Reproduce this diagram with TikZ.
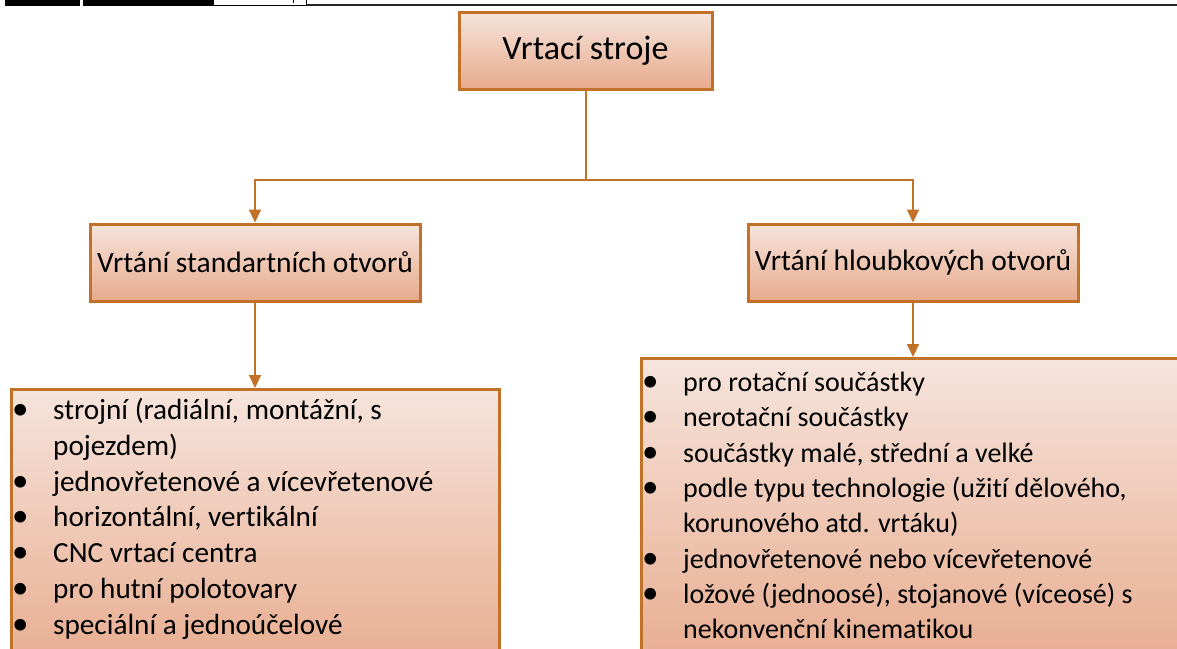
\documentclass[tikz,border=0pt]{standalone}
\usepackage{fontspec}
\setmainfont{Carlito}[Ligatures={NoCommon}]
\usetikzlibrary{arrows.meta,shadings}
\definecolor{bord}{RGB}{193,114,40}
\definecolor{ftop}{RGB}{246,228,220}
\definecolor{fbot}{RGB}{231,170,140}
\tikzset{
  box/.style={draw=bord, line width=3pt, top color=ftop, bottom color=fbot, inner sep=0pt},
  head/.style={box, font=\fontsize{29.5}{36}\selectfont},
  conn/.style={draw=bord, line width=2pt, -{Triangle[width=12pt,length=13pt]}},
  listtxt/.style={anchor=north west, inner sep=0pt, align=left},
}
\newcommand{\bul}{\makebox[0pt][l]{\hspace*{-41pt}\raisebox{0pt}{\fontsize{33}{30}\selectfont•}}}
\begin{document}
\begin{tikzpicture}[x=1pt,y=-1pt]
\useasboundingbox (0,0) rectangle (1177,648);
\clip (0,0) rectangle (1177,648);
% page header remnants
\fill[black] (5,-2) rectangle (80,6);
\fill[black] (83,-2) rectangle (213,6);
\draw[black, line width=0.8pt] (213,-2) rectangle (306,5.5);
\draw[black, line width=0.8pt] (293,0) -- (293,3);
\draw[black!85, line width=1.8pt] (306,5) -- (1177,5);
% heading boxes
\node[head, font=\fontsize{34}{40}\selectfont, minimum width=253pt, minimum height=77pt] (top) at (585.5,50.5) {Vrtací stroje};
\node[head, minimum width=330pt, minimum height=77pt] (left) at (255,262.5) {Vrtání standartních otvorů};
\node[head, minimum width=330pt, minimum height=77pt] (right) at (913,262.5) {Vrtání hloubkových otvorů};
% list boxes
\node[box, anchor=north west, minimum width=488pt, minimum height=290pt] (llist) at (10,388) {};
\node[box, anchor=north west, minimum width=560pt, minimum height=320pt] (rlist) at (640,357) {};
% connectors
\coordinate (split) at (585.5,180);
\draw[conn] (top.south) -- (split) -| (left.north);
\draw[conn] (split) -| (right.north);
\draw[conn] (left.south) -- (llist.north -| left.south);
\draw[conn] (right.south) -- (rlist.north -| right.south);
% list texts
\node[listtxt, font=\fontsize{29.2}{35.8}\selectfont] (ltext) at (53,398) {%
\bul strojní (radiální, montážní, s\\
pojezdem)\\
\bul jednovřetenové a vícevřetenové\\
\bul horizontální, vertikální\\
\bul CNC vrtací centra\\
\bul pro hutní polotovary\\
\bul speciální a jednoúčelové};
\node[listtxt, font=\fontsize{28}{35.3}\selectfont] (rtext) at (683,372) {%
\bul pro rotační součástky\\
\bul nerotační součástky\\
\bul součástky malé, střední a velké\\
\bul podle typu technologie (užití dělového,\\
korunového atd. vrtáku)\\
\bul jednovřetenové nebo vícevřetenové\\
\bul ložové (jednoosé), stojanové (víceosé) s\\
nekonvenční kinematikou};
\end{tikzpicture}
\end{document}
